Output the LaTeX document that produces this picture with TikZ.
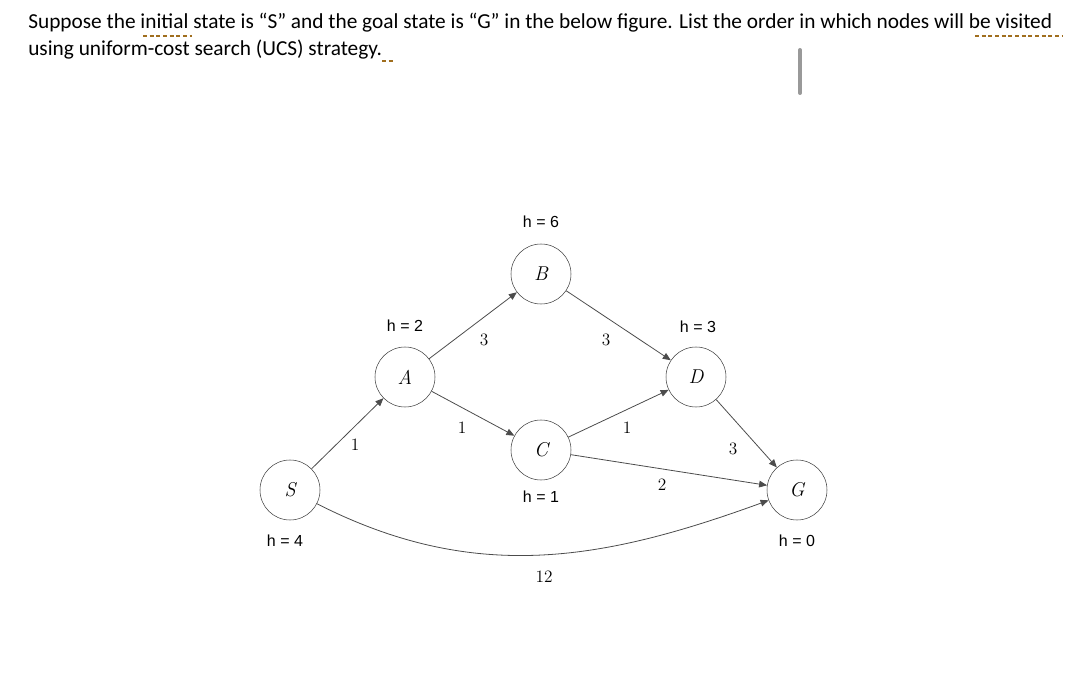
\documentclass[tikz,border=0pt]{standalone}
\usepackage{fontspec}
\setmainfont{Latin Modern Roman}
\newfontfamily\calib{Carlito}
\newfontfamily\arial{Liberation Sans}
\usetikzlibrary{arrows.meta}
\begin{document}
\begin{tikzpicture}[x=0.75pt,y=-0.75pt,
  st/.style={circle,draw=black!75,fill=white,minimum size=45pt,inner sep=0pt,font=\fontsize{15}{15}\selectfont\itshape},
  hl/.style={font=\arial\fontsize{12}{12}\selectfont},
  wl/.style={font=\fontsize{13}{13}\selectfont},
  ed/.style={draw=black!70,line width=0.6pt,-{Triangle[length=6pt,width=5pt]}},
  ul/.style={draw={rgb,255:red,160;green,110;blue,30},line width=2pt,dash pattern=on 3pt off 2pt}]
\useasboundingbox (0,0) rectangle (1072,685);
\node[anchor=base west,inner sep=0pt,font=\calib\fontsize{16}{16}\selectfont] (t1) at (28,29) {Suppose the initial state is “S” and the goal state is “G” in the below figure. List the order in which nodes will be visited};
\node[anchor=base west,inner sep=0pt,font=\calib\fontsize{16}{16}\selectfont] (t2) at (28,56) {using uniform-cost search (UCS) strategy.};
\draw[ul] (143,36) -- (192,36);
\draw[ul] (975,36) -- (1062,36);
\draw[ul] (382,61) -- (394,61);
\draw[black!40,line width=3pt,line cap=round] (800,50) -- (800,93);
\node[st] (S) at (290,490) {S};
\node[st] (A) at (405,377) {A};
\node[st] (B) at (541,274) {B};
\node[st] (C) at (541,450) {C};
\node[st] (D) at (696,377) {D};
\node[st] (G) at (797,490) {G};
\draw[ed] (S) -- (A);
\draw[ed] (A) -- (B);
\draw[ed] (A) -- (C);
\draw[ed] (B) -- (D);
\draw[ed] (C) -- (D);
\draw[ed] (C) -- (G);
\draw[ed] (D) -- (G);
\draw[ed] (S) to[out=-27,in=200] (G);
\node[wl] (w1) at (355,445) {1};
\node[wl] (w2) at (484,340) {3};
\node[wl] (w3) at (462,428) {1};
\node[wl] (w4) at (606,340) {3};
\node[wl] (w5) at (627,428) {1};
\node[wl] (w6) at (662,485) {2};
\node[wl] (w7) at (733,449) {3};
\node[wl] (w8) at (544,577) {12};
\node[hl] (hB) at (541,222) {h = 6};
\node[hl] (hA) at (405,326) {h = 2};
\node[hl] (hD) at (698,327) {h = 3};
\node[hl] (hC) at (541,497) {h = 1};
\node[hl] (hS) at (285,541) {h = 4};
\node[hl] (hG) at (797,541) {h = 0};
\end{tikzpicture}
\end{document}
